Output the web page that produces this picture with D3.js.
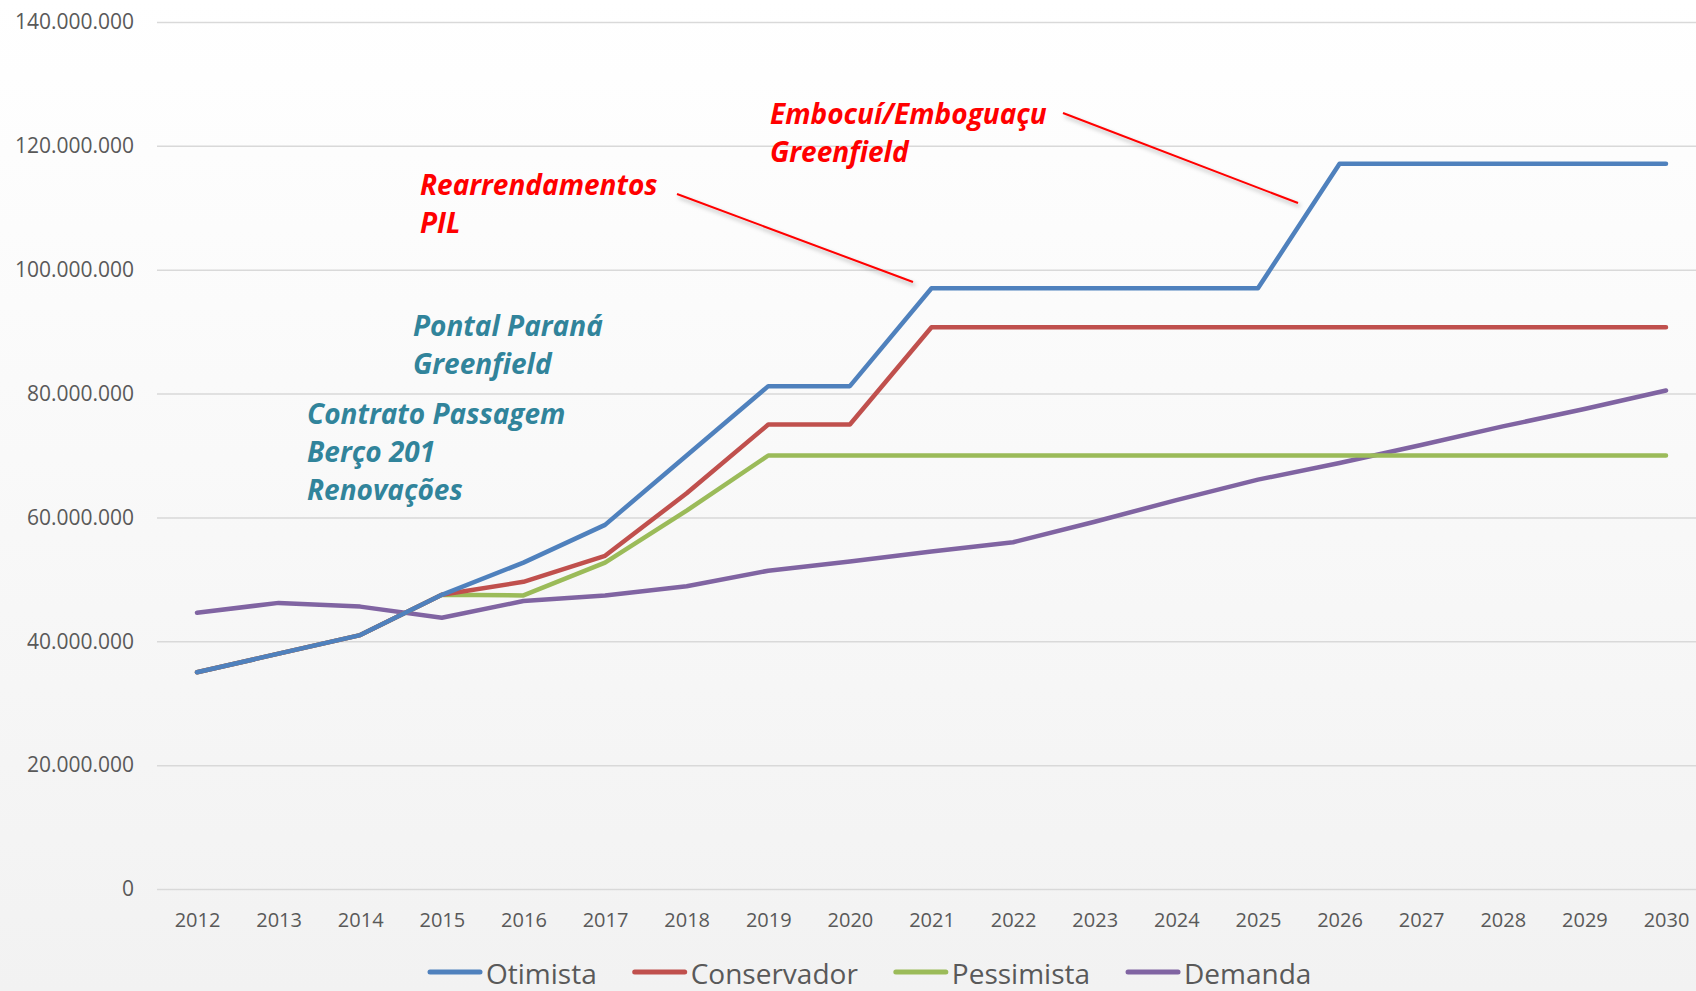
<!DOCTYPE html>
<html>
<head>
<meta charset="utf-8">
<script src="https://cdn.jsdelivr.net/npm/d3@7"></script>
<style>
  body { margin: 0; background: #fff; }
  .axis text { font-family: "Open Sans", sans-serif; fill: #595959; }
  .axis .domain { display: none; }
  .note { font-family: "Open Sans", sans-serif; font-weight: bold; font-style: italic; font-size: 28px; }
</style>
</head>
<body>
<svg width="1696" height="991"></svg>
<script>
var years = ["2012","2013","2014","2015","2016","2017","2018","2019","2020","2021",
  "2022","2023","2024","2025","2026","2027","2028","2029","2030"];

var otimista = [35.0, 38.0, 41.0, 47.5, 52.7, 58.8, 70.0, 81.2, 81.2, 97.0,
  97.0, 97.0, 97.0, 97.0, 117.1, 117.1, 117.1, 117.1, 117.1];
var conservador = [35.0, 38.0, 41.0, 47.5, 49.6, 53.8, 63.9, 75.0, 75.0, 90.7,
  90.7, 90.7, 90.7, 90.7, 90.7, 90.7, 90.7, 90.7, 90.7];
var pessimista = [35.0, 38.0, 41.0, 47.5, 47.4, 52.7, 61.1, 70.0, 70.0, 70.0,
  70.0, 70.0, 70.0, 70.0, 70.0, 70.0, 70.0, 70.0, 70.0];
var demanda = [44.6, 46.2, 45.6, 43.8, 46.5, 47.4, 48.9, 51.4, 52.9, 54.5,
  56.0, 59.3, 62.8, 66.1, 68.8, 71.7, 74.7, 77.5, 80.5];

var seriesNames = ["Otimista", "Conservador", "Pessimista", "Demanda"];
var seriesColors = ["#4F81BD", "#C0504D", "#9BBB59", "#8064A2"];
var yTicks = [0, 20e6, 40e6, 60e6, 80e6, 100e6, 120e6, 140e6];

// annotation texts
var notes = [
  { lines: ["Embocuí/Emboguaçu", "Greenfield"], color: "#FF0000" },
  { lines: ["Rearrendamentos", "PIL"], color: "#FF0000" },
  { lines: ["Pontal Paraná", "Greenfield"], color: "#31849B" },
  { lines: ["Contrato Passagem", "Berço 201", "Renovações"], color: "#31849B" }
];

var svg = d3.select("svg"),
  W = +svg.attr("width"),
  H = +svg.attr("height"),
  plotLeft = 157;

var defs = svg.append("defs");
var grad = defs.append("linearGradient").attr("id", "bg")
  .attr("x1", 0).attr("y1", 0).attr("x2", 0).attr("y2", 1);
grad.append("stop").attr("offset", "0%").attr("stop-color", "#ffffff");
grad.append("stop").attr("offset", "100%").attr("stop-color", "#f2f2f2");

var shadow = defs.append("filter").attr("id", "shadow")
  .attr("x", "-10%").attr("y", "-50%").attr("width", "130%").attr("height", "300%");
shadow.append("feDropShadow").attr("dx", 2).attr("dy", 3).attr("stdDeviation", 2)
  .attr("flood-color", "#000").attr("flood-opacity", 0.3);

svg.append("rect").attr("width", W).attr("height", H).attr("fill", "url(#bg)");

var x = d3.scalePoint().domain(years).range([197, 1666]);
var y = d3.scaleLinear().domain([0, 140e6]).range([889, 22]);

var locale = d3.formatLocale({ decimal: ",", thousands: ".", grouping: [3], currency: ["", ""] });
var fmt = locale.format(",.0f");

var yAxis = svg.append("g")
  .attr("class", "axis")
  .attr("transform", "translate(" + plotLeft + ",0)")
  .call(d3.axisLeft(y).tickValues(yTicks).tickFormat(fmt)
    .tickSize(-(W - plotLeft)).tickPadding(23));
yAxis.selectAll("line").attr("stroke", "#d9d9d9").attr("stroke-width", 1.5);
yAxis.selectAll("text").attr("font-size", 21);

var xAxis = svg.append("g")
  .attr("class", "axis")
  .attr("transform", "translate(0," + y(0) + ")")
  .call(d3.axisBottom(x).tickSize(0).tickPadding(24));
xAxis.selectAll("text").attr("font-size", 20);

var allSeries = [otimista, conservador, pessimista, demanda];
var line = d3.line()
  .x(function(d, i) { return x(years[i]); })
  .y(function(d) { return y(d * 1e6); });

svg.selectAll(".series")
  .data(allSeries.slice().reverse())
  .enter().append("path")
  .attr("class", "series")
  .attr("fill", "none")
  .attr("stroke", function(d, i) { return seriesColors[3 - i]; })
  .attr("stroke-width", 4.5)
  .attr("stroke-linejoin", "round")
  .attr("stroke-linecap", "round")
  .attr("d", line);

// annotations
var noteX = [770, 420, 413, 307],
  noteY = [124, 195, 336, 424],
  lead = [[1063, 113, 1298, 203], [677, 194, 913, 282], [554, 343, 881, 343], [441, 456, 770, 456]];

notes.forEach(function(n, k) {
  var t = svg.append("text").attr("class", "note")
    .attr("x", noteX[k]).attr("y", noteY[k]).attr("fill", n.color);
  n.lines.forEach(function(s, j) {
    t.append("tspan").attr("x", noteX[k]).attr("dy", j ? 38 : 0).text(s);
  });
  svg.append("line")
    .attr("x1", lead[k][0]).attr("y1", lead[k][1])
    .attr("x2", lead[k][2]).attr("y2", lead[k][3])
    .attr("stroke", "#FF0000").attr("stroke-width", 2)
    .attr("filter", "url(#shadow)");
});

// legend
var legend = svg.append("g").attr("transform", "translate(428,984)");
var lx = 0;
seriesNames.forEach(function(name, i) {
  legend.append("line")
    .attr("x1", lx + 2).attr("x2", lx + 52)
    .attr("y1", -12).attr("y2", -12)
    .attr("stroke", seriesColors[i]).attr("stroke-width", 5)
    .attr("stroke-linecap", "round");
  var t = legend.append("text")
    .attr("x", lx + 58).attr("y", 0)
    .attr("font-family", "Open Sans, sans-serif")
    .attr("font-size", 28)
    .attr("fill", "#595959")
    .text(name);
  lx += 58 + t.node().getComputedTextLength() + 36;
});
</script>
</body>
</html>
